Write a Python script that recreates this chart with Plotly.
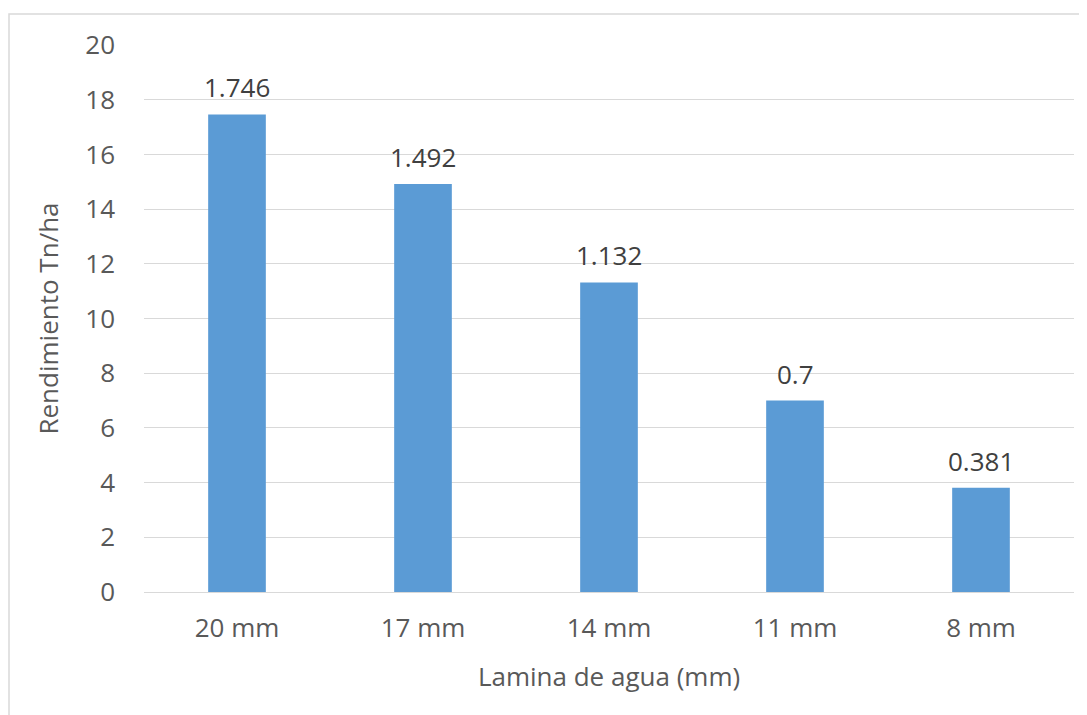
import plotly.graph_objects as go

categories = ["20 mm", "17 mm", "14 mm", "11 mm", "8 mm"]
values = [17.46, 14.92, 11.32, 7.0, 3.81]
labels = ["1.746", "1.492", "1.132", "0.7", "0.381"]
y_ticks = [0, 2, 4, 6, 8, 10, 12, 14, 16, 18, 20]

font_family = "Open Sans, Liberation Sans, sans-serif"
txt_color = "#595959"
FS = 26

fig = go.Figure()
fig.add_trace(go.Bar(
    x=categories, y=values,
    marker=dict(color="#5b9bd5", line=dict(width=0)),
    hoverinfo="skip",
))

for c, v, t in zip(categories, values, labels):
    fig.add_annotation(x=c, y=v, text=t, showarrow=False, yanchor="bottom",
                       yshift=7, font=dict(size=FS, color="#404040", family=font_family))

# page body has an 8px margin: figure sized/margined to compensate
W, H = 1079, 707
fig.update_layout(
    width=W, height=H,
    paper_bgcolor="white", plot_bgcolor="white",
    margin=dict(l=136, r=13, t=37, b=123),
    bargap=0.69, showlegend=False,
    font=dict(family=font_family, color=txt_color, size=FS),
    xaxis=dict(
        title=dict(text="Lamina de agua (mm)", font=dict(size=FS, color=txt_color), standoff=23),
        tickfont=dict(size=FS, color=txt_color), showgrid=False, showline=False,
        ticks="", ticklabelstandoff=18,
    ),
    yaxis=dict(
        title=dict(text="Rendimiento Tn/ha", font=dict(size=FS, color=txt_color), standoff=19),
        range=[0, 20], tickvals=y_ticks, tickfont=dict(size=FS, color=txt_color),
        showgrid=True, gridcolor="#d9d9d9", gridwidth=1.3,
        zeroline=True, zerolinecolor="#d9d9d9", zerolinewidth=1.3,
        showline=False, ticks="", ticklabelstandoff=28,
    ),
    shapes=[dict(type="rect", xref="paper", yref="paper",
                 x0=-135/930, x1=1.05, y0=-0.3, y1=1 + 31/547,
                 line=dict(color="#d9d9d9", width=1.5), fillcolor="rgba(0,0,0,0)", layer="below")],
)

fig.write_html("out.html")
